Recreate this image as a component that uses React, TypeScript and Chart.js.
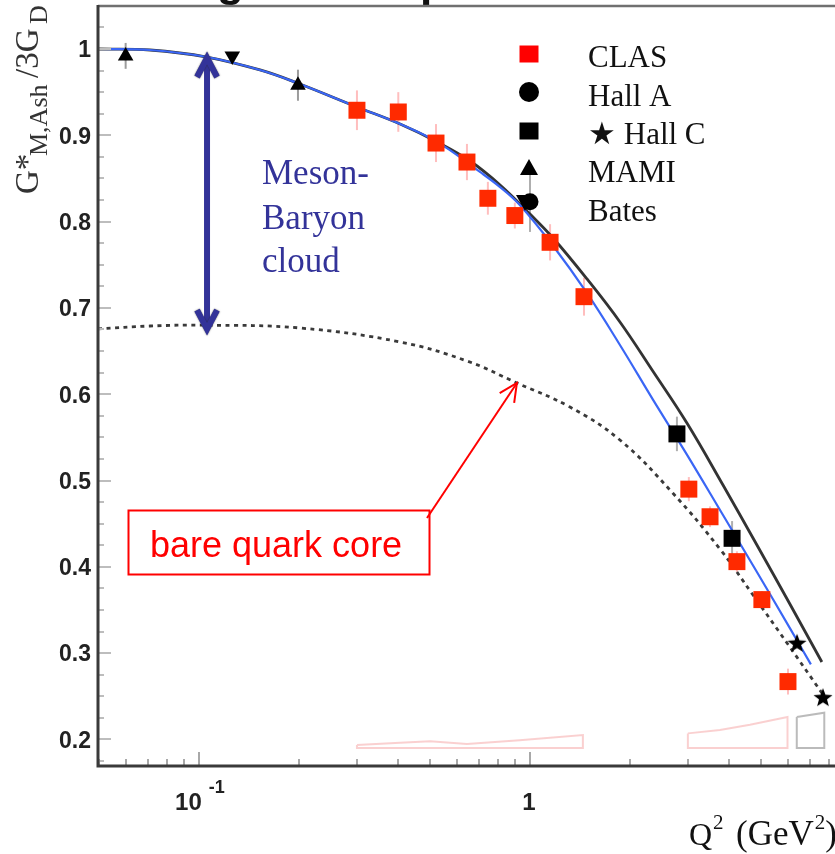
import React, { useEffect, useRef } from 'react';
import { Chart, registerables } from 'chart.js';

Chart.register(...registerables);

// ---------- Data ----------
// CLAS (red squares)
const clasQ2 = [0.30, 0.40, 0.52, 0.645, 0.746, 0.90, 1.15, 1.456, 3.02, 3.50, 4.22, 5.02, 6.02];
const clasG = [0.929, 0.927, 0.891, 0.869, 0.827, 0.807, 0.776, 0.713, 0.490, 0.458, 0.406, 0.362, 0.267];
const clasErr = [0.023, 0.023, 0.022, 0.021, 0.019, 0.015, 0.021, 0.022, 0.014, 0.012, 0.012, 0.010, 0.015];

// Hall A (black circle)
const hallAQ2 = [1.0];
const hallAG = [0.823];
const hallAErr = [0.035];

// Hall C (black squares and stars)
const hallCSqQ2 = [2.78, 4.08];
const hallCSqG = [0.554, 0.433];
const hallCSqErr = [0.02, 0.02];
const hallCStarQ2 = [6.41, 7.68];
const hallCStarG = [0.312, 0.249];

// MAMI (up triangles)
const mamiQ2 = [0.060, 0.199];
const mamiG = [0.992, 0.958];
const mamiErr = [0.015, 0.018];

// Bates (down triangle)
const batesQ2 = [0.126];
const batesG = [0.992];

// Model curves
const blackQ2 = [0.0495, 0.0711, 0.1056, 0.1528, 0.198, 0.300, 0.405, 0.524, 0.659, 0.812, 1.0, 1.174, 1.487, 1.87, 2.35, 2.98, 3.83, 4.85, 6.10, 7.62];
const blackG = [1.0, 0.9988, 0.9907, 0.9757, 0.9606, 0.9328, 0.9131, 0.8923, 0.8702, 0.8424, 0.8087, 0.7810, 0.7335, 0.6837, 0.6269, 0.5666, 0.4948, 0.4253, 0.3569, 0.2897];

const blueQ2 = [0.0495, 0.0711, 0.1056, 0.1528, 0.198, 0.300, 0.405, 0.524, 0.706, 0.812, 0.933, 1.174, 1.487, 1.87, 2.35, 2.98, 3.83, 4.85, 6.10, 7.06];
const blueG = [1.0, 0.9988, 0.9907, 0.9757, 0.9606, 0.9328, 0.9131, 0.8923, 0.8575, 0.840, 0.819, 0.772, 0.717, 0.657, 0.594, 0.530, 0.460, 0.394, 0.329, 0.287];

const coreQ2 = [0.0495, 0.0711, 0.1043, 0.2019, 0.405, 0.645, 0.913, 1.321, 1.87, 2.70, 3.75, 4.72, 5.98, 7.68];
const coreG = [0.6756, 0.679, 0.680, 0.6767, 0.6605, 0.6385, 0.613, 0.5851, 0.5469, 0.4855, 0.4206, 0.3673, 0.3117, 0.252];

// Systematic error bands (outlines)
const band1Q2 = [0.30, 0.405, 0.499, 0.645, 0.93, 1.445, 1.445, 0.30, 0.30];
const band1G = [0.1935, 0.196, 0.198, 0.1947, 0.199, 0.205, 0.19, 0.19, 0.1935];
const band2Q2 = [3.0, 3.75, 4.62, 6.0, 6.0, 3.0, 3.0];
const band2G = [0.207, 0.211, 0.217, 0.226, 0.19, 0.19, 0.207];
const band3Q2 = [6.4, 7.75, 7.75, 6.4, 6.4];
const band3G = [0.226, 0.231, 0.19, 0.19, 0.226];

// Axes
const xMin = 0.0495;
const xMax = 8.35;
const yMin = 0.1692;
const yMax = 1.0498;
const yTickValues = [0.2, 0.3, 0.4, 0.5, 0.6, 0.7, 0.8, 0.9, 1.0];
const yTickLabels = ['0.2', '0.3', '0.4', '0.5', '0.6', '0.7', '0.8', '0.9', '1'];
const yMinorTicks = [0.175, 0.225, 0.25, 0.275, 0.325, 0.35, 0.375, 0.425, 0.45, 0.475, 0.525, 0.55, 0.575, 0.625, 0.65, 0.675, 0.725, 0.75, 0.775, 0.825, 0.85, 0.875, 0.925, 0.95, 0.975, 1.025];
const xTickValues = [0.05, 0.06, 0.07, 0.08, 0.09, 0.1, 0.2, 0.3, 0.4, 0.5, 0.6, 0.7, 0.8, 0.9, 1, 2, 3, 4, 5, 6, 7, 8];
const xMajorValues = [0.1, 1];
const xMajorBase = ['10', '1'];
const xMajorExp = ['-1', ''];

// Legend
const legendLabels = ['CLAS', 'Hall A', '\u2605 Hall C', 'MAMI', 'Bates'];
const legendMarkers = ['redSquare', 'circle', 'square', 'triUp', 'triDown'];

// Annotation texts / anchors
const cloudLines = ['Meson-', 'Baryon', 'cloud'];
const coreLabel = 'bare quark core';
const arrowQ2 = 0.1057;
const arrowTopG = 0.993;
const arrowBottomG = 0.672;
const coreArrowTipQ2 = 0.913;
const coreArrowTipG = 0.613;

// ---------- Helpers ----------
const CLAS_RED = '#ff2a00';
const SERIF = '"Liberation Serif", "Times New Roman", serif';
const SANS = '"Liberation Sans", Arial, Helvetica, sans-serif';

function makeStar(r: number, color: string): HTMLCanvasElement {
  const c = document.createElement('canvas');
  const s = Math.ceil(r * 2 + 2);
  c.width = s;
  c.height = s;
  const ctx = c.getContext('2d')!;
  ctx.fillStyle = color;
  ctx.beginPath();
  for (let i = 0; i < 10; i++) {
    const rad = i % 2 === 0 ? r : r * 0.42;
    const a = -Math.PI / 2 + (i * Math.PI) / 5;
    const x = s / 2 + rad * Math.cos(a);
    const y = s / 2 + 1 + rad * Math.sin(a);
    if (i === 0) ctx.moveTo(x, y);
    else ctx.lineTo(x, y);
  }
  ctx.closePath();
  ctx.fill();
  return c;
}

function pts(xs: number[], ys: number[]) {
  return xs.map((x, i) => ({ x, y: ys[i] }));
}

function drawMarker(ctx: CanvasRenderingContext2D, kind: string, x: number, y: number) {
  ctx.save();
  ctx.fillStyle = kind === 'redSquare' ? '#ff0000' : '#000';
  ctx.beginPath();
  if (kind === 'redSquare' || kind === 'square') {
    ctx.rect(x - 9.5, y - 8.5, 19, 17);
  } else if (kind === 'circle') {
    ctx.arc(x, y, 10, 0, Math.PI * 2);
  } else if (kind === 'triUp') {
    ctx.moveTo(x, y - 9);
    ctx.lineTo(x + 9, y + 7);
    ctx.lineTo(x - 9, y + 7);
    ctx.closePath();
  } else if (kind === 'triDown') {
    ctx.moveTo(x, y + 9);
    ctx.lineTo(x + 9, y - 7);
    ctx.lineTo(x - 9, y - 7);
    ctx.closePath();
  }
  ctx.fill();
  ctx.restore();
}

const errorSets = [
  { xs: clasQ2, ys: clasG, errs: clasErr, color: 'rgba(255,110,110,0.45)' },
  { xs: hallAQ2, ys: hallAG, errs: hallAErr, color: 'rgba(110,110,110,0.55)' },
  { xs: hallCSqQ2, ys: hallCSqG, errs: hallCSqErr, color: 'rgba(110,110,110,0.55)' },
  { xs: mamiQ2, ys: mamiG, errs: mamiErr, color: 'rgba(90,90,90,0.6)' },
];

const decorPlugin = {
  id: 'decor',
  beforeDatasetsDraw(chart: any) {
    const ctx: CanvasRenderingContext2D = chart.ctx;
    const sx = chart.scales.x;
    const sy = chart.scales.y;
    ctx.save();
    ctx.lineWidth = 2;
    for (const set of errorSets) {
      ctx.strokeStyle = set.color;
      set.xs.forEach((q, i) => {
        const px = sx.getPixelForValue(q);
        ctx.beginPath();
        ctx.moveTo(px, sy.getPixelForValue(set.ys[i] + set.errs[i]));
        ctx.lineTo(px, sy.getPixelForValue(set.ys[i] - set.errs[i]));
        ctx.stroke();
      });
    }
    ctx.restore();
  },
  afterDatasetsDraw(chart: any) {
    const ctx: CanvasRenderingContext2D = chart.ctx;
    const sx = chart.scales.x;
    const sy = chart.scales.y;
    const area = chart.chartArea;
    const L = area.left;
    const R = area.right;
    const T = area.top;
    const B = area.bottom;
    ctx.save();

    // Title remnants (cut off at the top)
    ctx.fillStyle = '#111';
    ctx.font = 'bold 44px ' + SANS;
    ctx.textBaseline = 'alphabetic';
    ctx.textAlign = 'left';
    ctx.fillText('g', 217, -4);
    ctx.fillText('p', 420, -4);

    // Ticks (inside)
    ctx.lineWidth = 2;
    ctx.strokeStyle = '#bdbdbd';
    yTickValues.forEach((v) => {
      const py = Math.round(sy.getPixelForValue(v));
      ctx.beginPath();
      ctx.moveTo(L, py);
      ctx.lineTo(L + 13, py);
      ctx.stroke();
    });
    yMinorTicks.forEach((v) => {
      const py = Math.round(sy.getPixelForValue(v));
      ctx.beginPath();
      ctx.moveTo(L, py);
      ctx.lineTo(L + 6, py);
      ctx.stroke();
    });
    ctx.strokeStyle = '#a8a8a8';
    xTickValues.forEach((v) => {
      const px = Math.round(sx.getPixelForValue(v));
      const len = xMajorValues.includes(v) ? 14 : 7;
      ctx.beginPath();
      ctx.moveTo(px, B);
      ctx.lineTo(px, B - len);
      ctx.stroke();
    });

    // Frame
    ctx.strokeStyle = '#707070';
    ctx.lineWidth = 2.5;
    ctx.beginPath();
    ctx.moveTo(L, T);
    ctx.lineTo(R + 2, T);
    ctx.stroke();
    ctx.strokeStyle = '#3a3a3a';
    ctx.lineWidth = 3;
    ctx.beginPath();
    ctx.moveTo(L, T - 1);
    ctx.lineTo(L, B);
    ctx.lineTo(R + 2, B);
    ctx.stroke();

    // Y tick labels
    ctx.fillStyle = '#222';
    ctx.font = 'bold 23px ' + SANS;
    ctx.textAlign = 'right';
    ctx.textBaseline = 'middle';
    yTickValues.forEach((v, i) => {
      ctx.fillText(yTickLabels[i], L - 7, sy.getPixelForValue(v) + 2);
    });

    // X tick labels
    ctx.textBaseline = 'alphabetic';
    xMajorValues.forEach((v, i) => {
      const px = sx.getPixelForValue(v);
      ctx.font = 'bold 24px ' + SANS;
      const base = xMajorBase[i];
      const exp = xMajorExp[i];
      if (exp) {
        const bw = ctx.measureText(base).width;
        ctx.textAlign = 'left';
        ctx.fillText(base, px - 24, 810);
        ctx.font = 'bold 18px ' + SANS;
        ctx.fillText(exp, px - 24 + bw + 7, 793);
      } else {
        ctx.textAlign = 'center';
        ctx.fillText(base, px - 1, 810);
      }
    });

    // X axis title: Q^2 (GeV^2)
    ctx.fillStyle = '#111';
    ctx.textAlign = 'left';
    let cx = 689;
    ctx.font = '32px ' + SERIF;
    ctx.fillText('Q', cx, 845);
    cx += ctx.measureText('Q').width + 1;
    ctx.font = '21px ' + SERIF;
    ctx.fillText('2', cx, 829);
    cx = 736;
    ctx.font = '35px ' + SERIF;
    ctx.fillText('(GeV', cx, 845);
    cx += ctx.measureText('(GeV').width + 1;
    ctx.font = '21px ' + SERIF;
    ctx.fillText('2', cx, 829);
    cx += ctx.measureText('2').width;
    ctx.font = '35px ' + SERIF;
    ctx.fillText(')', cx, 845);

    // Y axis title: G*_{M,Ash}/3G_D (rotated)
    ctx.save();
    ctx.translate(38, 194);
    ctx.rotate(-Math.PI / 2);
    ctx.fillStyle = '#333';
    ctx.textAlign = 'left';
    ctx.font = '33px ' + SERIF;
    ctx.fillText('G*', 0, 0);
    ctx.font = '26px ' + SERIF;
    ctx.fillText('M,Ash', 38, 9);
    ctx.font = '33px ' + SERIF;
    ctx.fillText('/3G', 116, 0);
    ctx.font = '26px ' + SERIF;
    ctx.fillText('D', 170, 9);
    ctx.restore();

    // Legend
    ctx.font = '31px ' + SERIF;
    ctx.textAlign = 'left';
    ctx.textBaseline = 'alphabetic';
    const legendMarkerX = [529, 529, 529, 529, 525];
    const legendMarkerY = [54, 92, 131, 168, 202];
    const legendTextY = [67, 106, 144, 182, 221];
    legendLabels.forEach((lab, i) => {
      drawMarker(ctx, legendMarkers[i], legendMarkerX[i], legendMarkerY[i]);
      ctx.fillStyle = '#111';
      ctx.fillText(lab, 588, legendTextY[i]);
    });

    // Meson-Baryon cloud double arrow
    const ax = sx.getPixelForValue(arrowQ2);
    const aTop = sy.getPixelForValue(arrowTopG);
    const aBot = sy.getPixelForValue(arrowBottomG);
    ctx.strokeStyle = '#333399';
    ctx.lineWidth = 6;
    ctx.lineCap = 'butt';
    ctx.lineJoin = 'miter';
    ctx.beginPath();
    ctx.moveTo(ax, aTop + 3);
    ctx.lineTo(ax, aBot - 3);
    ctx.stroke();
    ctx.shadowColor = 'rgba(40,40,40,0.8)';
    ctx.shadowBlur = 1.5;
    ctx.beginPath();
    ctx.moveTo(ax - 10, aTop + 22);
    ctx.lineTo(ax, aTop + 3);
    ctx.lineTo(ax + 10, aTop + 22);
    ctx.stroke();
    ctx.beginPath();
    ctx.moveTo(ax - 10, aBot - 22);
    ctx.lineTo(ax, aBot - 3);
    ctx.lineTo(ax + 10, aBot - 22);
    ctx.stroke();
    ctx.shadowColor = 'transparent';
    ctx.shadowBlur = 0;

    ctx.fillStyle = '#333399';
    ctx.font = '35px ' + SERIF;
    ctx.fillText(cloudLines[0], 262, 184);
    ctx.fillText(cloudLines[1], 262, 229);
    ctx.fillText(cloudLines[2], 262, 272);

    // bare quark core box + arrow
    ctx.strokeStyle = '#ff0000';
    ctx.lineWidth = 2;
    ctx.strokeRect(128.5, 510.5, 301, 64);
    ctx.fillStyle = '#ff0000';
    ctx.font = '36px ' + SANS;
    ctx.fillText(coreLabel, 150, 557);
    const tx = sx.getPixelForValue(coreArrowTipQ2);
    const ty = sy.getPixelForValue(coreArrowTipG);
    const fx = 427;
    const fy = 518;
    ctx.beginPath();
    ctx.moveTo(fx, fy);
    ctx.lineTo(tx, ty);
    ctx.stroke();
    const ang = Math.atan2(fy - ty, fx - tx);
    const hl = 20;
    ctx.beginPath();
    ctx.moveTo(tx + hl * Math.cos(ang + 0.45), ty + hl * Math.sin(ang + 0.45));
    ctx.lineTo(tx, ty);
    ctx.lineTo(tx + hl * Math.cos(ang - 0.45), ty + hl * Math.sin(ang - 0.45));
    ctx.stroke();

    ctx.restore();
  },
};

export default function App() {
  const ref = useRef<HTMLCanvasElement>(null);

  useEffect(() => {
    if (!ref.current) return;
    const star = makeStar(10, '#000');
    const lineDs = (xs: number[], ys: number[], color: string, width: number, dash: number[] = [], tension = 0.4) => ({
      data: pts(xs, ys),
      showLine: true,
      borderColor: color,
      borderWidth: width,
      borderDash: dash,
      pointRadius: 0,
      tension,
      fill: false,
    });
    const chart = new Chart(ref.current, {
      type: 'scatter',
      data: {
        datasets: [
          { label: 'Hall C stars', data: pts(hallCStarQ2, hallCStarG), pointStyle: star, pointRadius: 10, backgroundColor: '#000', borderWidth: 0 },
          { label: 'Hall A', data: pts(hallAQ2, hallAG), pointStyle: 'circle', pointRadius: 8.5, backgroundColor: '#000', borderColor: '#000', borderWidth: 0 },
          { label: 'Bates', data: pts(batesQ2, batesG), pointStyle: 'triangle', rotation: 180, pointRadius: 9, backgroundColor: '#000', borderColor: '#000', borderWidth: 0 },
          { label: 'MAMI', data: pts(mamiQ2, mamiG), pointStyle: 'triangle', pointRadius: 9, backgroundColor: '#000', borderColor: '#000', borderWidth: 0 },
          { label: 'Hall C', data: pts(hallCSqQ2, hallCSqG), pointStyle: 'rect', pointRadius: 12, backgroundColor: '#000', borderColor: '#000', borderWidth: 0 },
          { label: 'CLAS', data: pts(clasQ2, clasG), pointStyle: 'rect', pointRadius: 12, backgroundColor: CLAS_RED, borderColor: CLAS_RED, borderWidth: 0 },
          { label: 'blue', ...lineDs(blueQ2, blueG, '#3a66f5', 2.2) },
          { label: 'black', ...lineDs(blackQ2, blackG, '#333333', 2.8) },
          { label: 'core', ...lineDs(coreQ2, coreG, '#3a3a3a', 2.8, [4, 4.5]) },
          { label: 'band1', ...lineDs(band1Q2, band1G, 'rgba(245,150,150,0.45)', 2, [], 0) },
          { label: 'band2', ...lineDs(band2Q2, band2G, 'rgba(245,150,150,0.45)', 2, [], 0) },
          { label: 'band3', ...lineDs(band3Q2, band3G, 'rgba(120,120,120,0.5)', 2, [], 0) },
        ] as any,
      },
      options: {
        animation: false,
        responsive: false,
        maintainAspectRatio: false,
        layout: { autoPadding: false, padding: { left: 98, top: 6, right: 0, bottom: 88 } },
        plugins: { legend: { display: false }, tooltip: { enabled: false } },
        scales: {
          x: { type: 'logarithmic', min: xMin, max: xMax, display: false },
          y: { type: 'linear', min: yMin, max: yMax, display: false },
        },
      } as any,
      plugins: [decorPlugin as any],
    });
    return () => chart.destroy();
  }, []);

  return (
    <div style={{ position: 'absolute', left: 0, top: 0, width: 835, height: 854, background: '#fff', overflow: 'hidden' }}>
      <canvas ref={ref} width={835} height={854} style={{ display: 'block', width: 835, height: 854 }} />
    </div>
  );
}
